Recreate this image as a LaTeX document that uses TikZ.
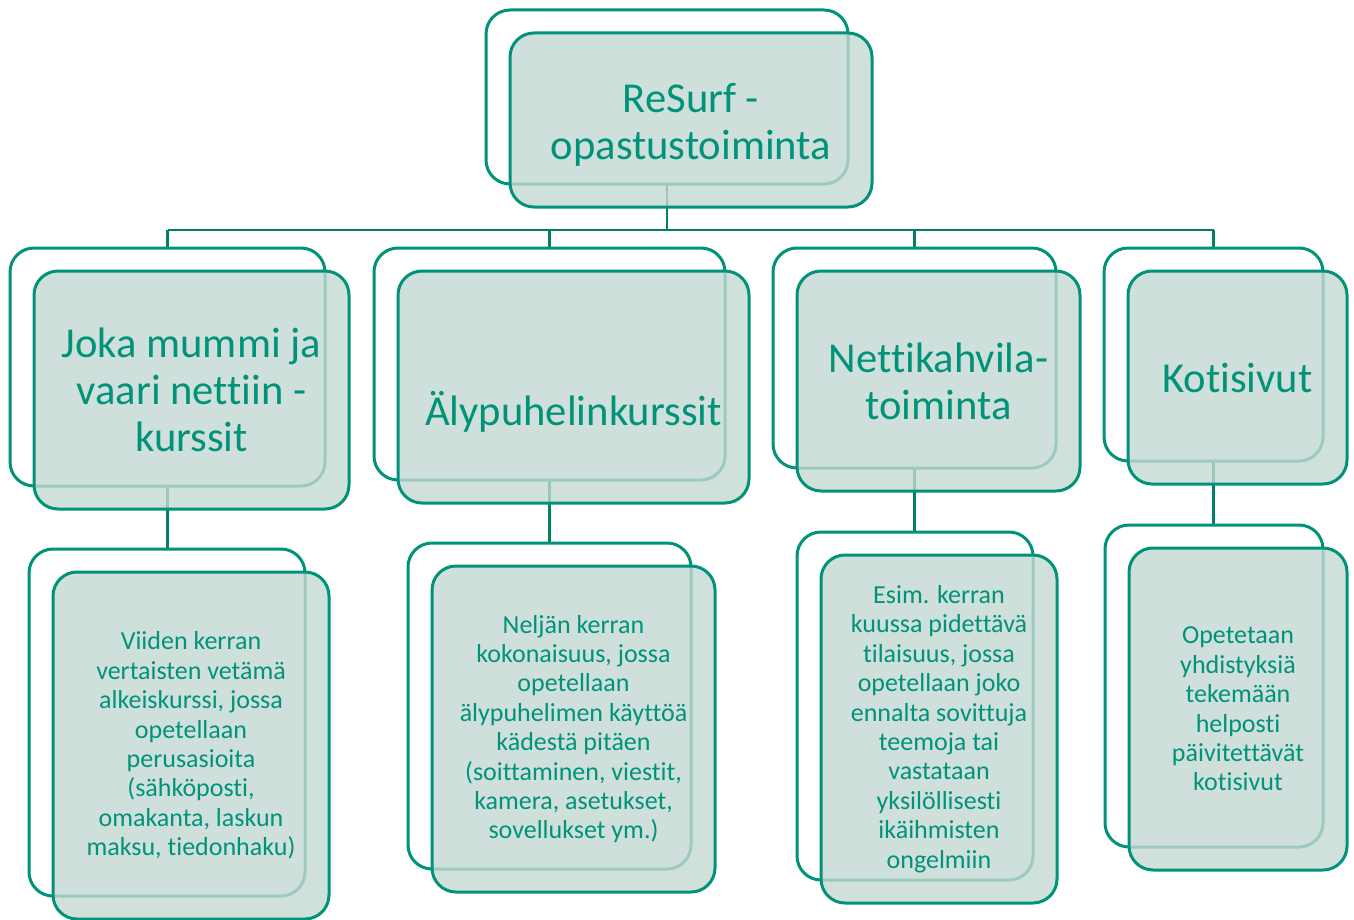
\documentclass[tikz,border=0pt]{standalone}
\usepackage{fontspec}
\setmainfont[Ligatures=NoCommon]{Carlito}
\usetikzlibrary{backgrounds}
\definecolor{rsline}{HTML}{00937A}
\definecolor{rslink}{HTML}{008068}
\definecolor{rstext}{HTML}{00937A}
\definecolor{rsfill}{HTML}{C4D8D2}

\begin{document}
\begin{tikzpicture}
	[x=0.5pt,y=-0.5pt,
	every node/.style={inner sep=0pt,rounded corners=12pt,line width=1.5pt},
	size/.style 2 args={minimum width=#1*0.5pt,minimum height=#2*0.5pt},
	back/.style={draw=rsline,fill=white},
	front/.style={draw=rsline,fill=rsfill,fill opacity=0.8,text opacity=1,text=rstext,align=center},
	big/.style={font=\fontsize{21.3}{23.5}\selectfont},
	small/.style={font=\fontsize{13}{14.7}\selectfont},
	link/.style={draw=rslink,line width=1.4pt}]
	\useasboundingbox (0,0) rectangle (1354,920);
	% top
	\node [back,size={362}{174}] (b0) at (667,97) {};
	\node [front,big,size={362}{174}] (f0) at (691,120) {\rule{0pt}{19pt}ReSurf -\\opastustoiminta};
	% level 1
	\node [back,size={315}{238}] (b1) at (167.5,367) {};
	\node [front,big,size={315}{238}] (f1) at (191.5,390) {Joka mummi ja\\vaari nettiin -\\kurssit};
	\node [back,size={351}{232}] (b2) at (549.5,364) {};
	\node [front,big,size={351}{232}] (f2) at (573.5,387) {\rule{0pt}{42pt}Älypuhelinkurssit};
	\node [back,size={283}{220}] (b3) at (914.5,358) {};
	\node [front,big,size={283}{220}] (f3) at (938.5,381) {Nettikahvila-\\toiminta};
	\node [back,size={219}{213}] (b4) at (1213.5,354.5) {};
	\node [front,big,size={219}{213}] (f4) at (1237.5,377.5) {Kotisivut};
	% level 2
	\node [back,size={276}{347}] (c1) at (167,722.5) {};
	\node [front,small,size={276}{347}] (g1) at (191,745.5) {Viiden kerran\\vertaisten vetämä\\alkeiskurssi, jossa\\opetellaan\\perusasioita\\(sähköposti,\\omakanta, laskun\\maksu, tiedonhaku)};
	\node [back,size={283}{326}] (c2) at (549.5,706) {};
	\node [front,small,size={283}{326}] (g2) at (573.5,729) {Neljän kerran\\kokonaisuus, jossa\\opetellaan\\älypuhelimen käyttöä\\kädestä pitäen\\(soittaminen, viestit,\\kamera, asetukset,\\sovellukset ym.)};
	\node [back,size={236}{348}] (c3) at (915,706) {};
	\node [front,small,size={236}{348}] (g3) at (939,729) {Esim. kerran\\kuussa pidettävä\\tilaisuus, jossa\\opetellaan joko\\ennalta sovittuja\\teemoja tai\\vastataan\\yksilöllisesti\\ikäihmisten\\ongelmiin};
	\node [back,size={218}{322}] (c4) at (1214,686) {};
	\node [front,small,size={218}{322}] (g4) at (1238,709) {Opetetaan\\yhdistyksiä\\tekemään\\helposti\\päivitettävät\\kotisivut};
	% connectors
	\begin{scope}[on background layer]
	\coordinate (bus) at (0,230);
	\draw [link] (b0.center) -- (b0.center |- bus);
	\draw [link] (b1.north |- bus) -- (b4.north |- bus);
	\foreach \n in {1,...,4} {
		\draw [link] (b\n.north |- bus) -- (b\n.north);
		\draw [link] (b\n.center) -- (b\n.center |- c\n.north);
	}
	\end{scope}
\end{tikzpicture}
\end{document}
